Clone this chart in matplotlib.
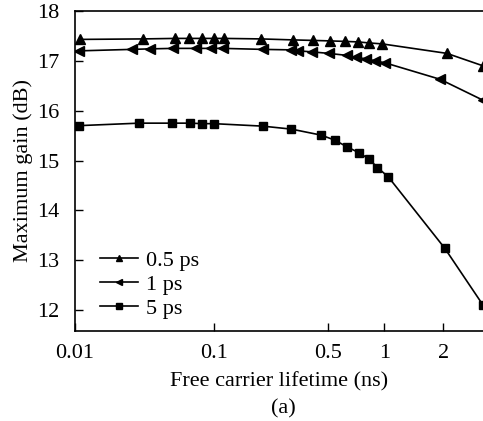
import numpy as np
import matplotlib
matplotlib.use("Agg")
import matplotlib.pyplot as plt

# data (lifetime in ns, gain in dB)
t_05 = [0.0108, 0.031, 0.053, 0.066, 0.082, 0.1, 0.115, 0.194, 0.308, 0.405,
        0.515, 0.62, 0.724, 0.826, 0.975, 2.09, 3.2]
g_05 = [17.43, 17.44, 17.45, 17.45, 17.45, 17.45, 17.45, 17.44, 17.42, 17.41,
        17.40, 17.39, 17.38, 17.36, 17.34, 17.15, 16.90]

t_1 = [0.0106, 0.0256, 0.0347, 0.051, 0.075, 0.096, 0.114, 0.2, 0.30, 0.331,
       0.40, 0.506, 0.63, 0.705, 0.80, 0.895, 1.01, 1.93, 3.2]
g_1 = [17.20, 17.23, 17.24, 17.25, 17.25, 17.25, 17.25, 17.23, 17.22, 17.20,
       17.18, 17.15, 17.11, 17.07, 17.04, 17.00, 16.96, 16.63, 16.21]

t_5 = [0.0107, 0.029, 0.05, 0.067, 0.083, 0.1, 0.2, 0.30, 0.456, 0.545,
       0.63, 0.73, 0.83, 0.92, 1.05, 2.04, 3.2]
g_5 = [15.70, 15.75, 15.75, 15.75, 15.74, 15.74, 15.69, 15.63, 15.51, 15.41,
       15.28, 15.16, 15.03, 14.86, 14.67, 13.24, 12.10]

xticks = [0.01, 0.1, 0.5, 1, 2]
xticklabels = ["0.01", "0.1", "0.5", "1", "2"]
yticks = [12, 13, 14, 15, 16, 17, 18]

# the original x axis is not a clean log axis: piecewise log mapping
knot_log = np.array([-3, -2, -1, np.log10(0.5), 0, np.log10(2), 2])
knot_u = np.array([-139, 0, 139, 253.3, 310, 369, 310 + 2 * 196])


def fwd(t):
    t = np.clip(np.asarray(t, dtype=float), 1e-4, None)
    return np.interp(np.log10(t), knot_log, knot_u)


def inv(u):
    return 10 ** np.interp(np.asarray(u, dtype=float), knot_u, knot_log)


plt.rcParams["font.family"] = ["Liberation Serif", "DejaVu Serif"]
plt.rcParams["font.size"] = 16

fig = plt.figure(figsize=(4.83, 4.21), dpi=100)
ax = fig.add_axes([75 / 483, 1 - 331 / 421, 1 - 75 / 483, 320 / 421])
ax.set_xscale("function", functions=(fwd, inv))

ax.plot(t_05, g_05, "k-", marker="^", ms=7, lw=1.2, label="0.5 ps")
ax.plot(t_1, g_1, "k-", marker="<", ms=7, lw=1.2, label="1 ps")
ax.plot(t_5, g_5, "k-", marker="s", ms=5.5, lw=1.2, label="5 ps")

ax.set_xlim(0.01, 3.2)
ax.set_ylim(11.58, 18)
ax.set_xticks(xticks)
ax.set_xticklabels(xticklabels)
ax.set_yticks(yticks)
ax.minorticks_off()
ax.tick_params(direction="in", length=6, width=1, pad=11)
ax.tick_params(axis="x", pad=9)
ax.spines["right"].set_visible(False)
for s in ["left", "top", "bottom"]:
    ax.spines[s].set_linewidth(1.2)

ax.set_xlabel("Free carrier lifetime (ns)", labelpad=7)
ax.set_ylabel("Maximum gain (dB)", labelpad=3)
fig.text(283 / 483, 1 - 409 / 421, "(a)", ha="center", va="center", fontsize=16)

ax.legend(loc="lower left", bbox_to_anchor=(0.04, 0.01), frameon=False,
          handlelength=1.7, handletextpad=0.35, labelspacing=0.15,
          borderaxespad=0, fontsize=16, markerscale=0.7)

fig.savefig("out.png", dpi=100)
